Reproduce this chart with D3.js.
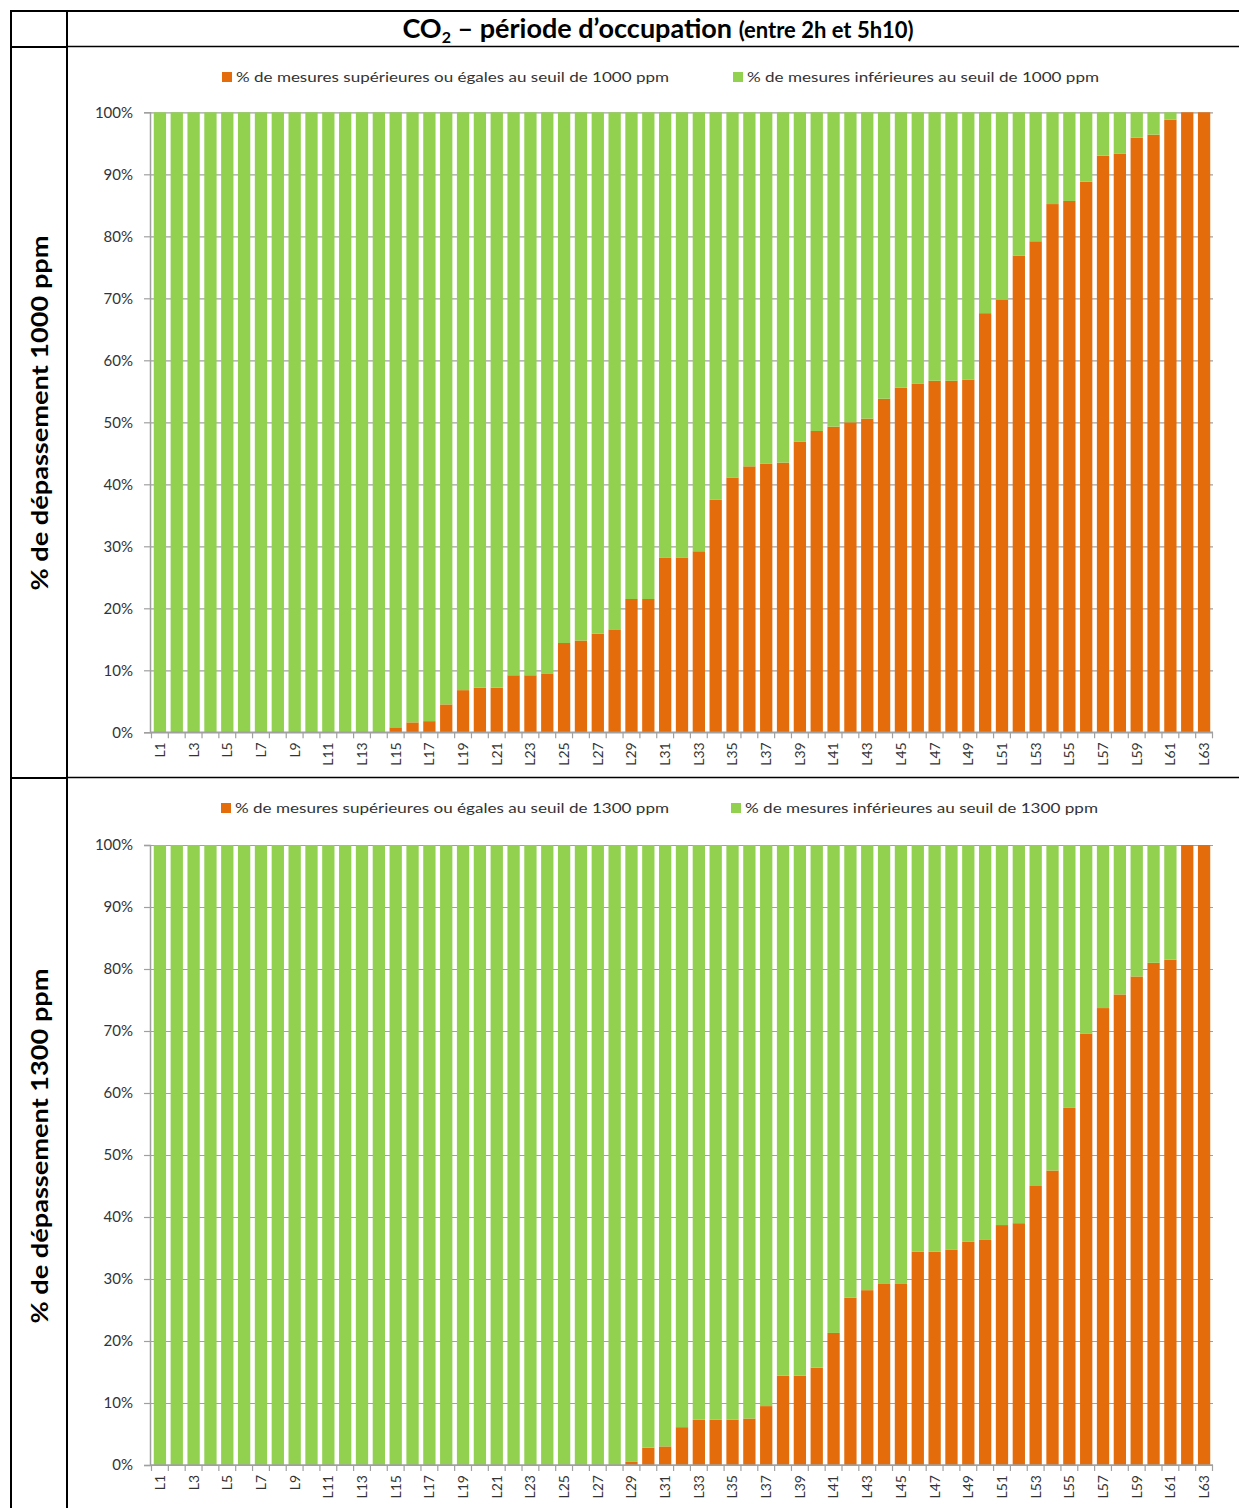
<!DOCTYPE html>
<html><head><meta charset="utf-8">
<script src="https://cdn.jsdelivr.net/npm/d3@7"></script>
<style>
html,body{margin:0;padding:0;background:#fff;}
svg{display:block;font-family:Lato,"Open Sans",sans-serif;}
</style></head>
<body>
<svg id="chart" width="1239" height="1508"></svg>
<script>
const categories = ["L1","L2","L3","L4","L5","L6","L7","L8","L9","L10","L11","L12","L13","L14","L15","L16","L17","L18","L19","L20","L21","L22","L23","L24","L25","L26","L27","L28","L29","L30","L31","L32","L33","L34","L35","L36","L37","L38","L39","L40","L41","L42","L43","L44","L45","L46","L47","L48","L49","L50","L51","L52","L53","L54","L55","L56","L57","L58","L59","L60","L61","L62","L63"];
const labeledCategories = ["L1","L3","L5","L7","L9","L11","L13","L15","L17","L19","L21","L23","L25","L27","L29","L31","L33","L35","L37","L39","L41","L43","L45","L47","L49","L51","L53","L55","L57","L59","L61","L63"];
// % of measures >= 1000 ppm
const over1000 = [0,0,0,0,0,0,0,0,0,0,0,0,0,0,0.8,1.6,1.8,4.5,6.8,7.2,7.2,9.2,9.2,9.5,14.4,14.8,15.9,16.6,21.5,21.5,28.2,28.2,29.2,37.5,41.1,42.9,43.3,43.5,46.9,48.6,49.3,50.0,50.6,53.8,55.6,56.2,56.7,56.7,56.9,67.6,69.8,76.9,79.2,85.2,85.7,88.8,93.0,93.3,95.9,96.4,98.8,100,100];
// % of measures >= 1300 ppm
const over1300 = [0,0,0,0,0,0,0,0,0,0,0,0,0,0,0,0,0,0,0,0,0,0,0,0,0,0,0,0,0.5,2.8,3.0,6.1,7.3,7.3,7.3,7.5,9.5,14.4,14.4,15.7,21.3,27.0,28.2,29.2,29.2,34.4,34.4,34.7,36.0,36.3,38.7,39.0,45.0,47.5,57.6,69.6,73.7,75.9,78.8,81.0,81.5,100,100];
const yTicks = [0,10,20,30,40,50,60,70,80,90,100];
const seriesKeys = ["over","under"];
const legend1000 = ["% de mesures supérieures ou égales au seuil de 1000 ppm","% de mesures inférieures au seuil de 1000 ppm"];
const legend1300 = ["% de mesures supérieures ou égales au seuil de 1300 ppm","% de mesures inférieures au seuil de 1300 ppm"];
const axisTitles = ["% de dépassement 1000 ppm","% de dépassement 1300 ppm"];

const colors = {over:"#E46C0A", under:"#92D050"};
const gridColor = "#A0A0A0";
const textColor = "#333333";

const svg = d3.select("#chart");

// Table frame
const frame = svg.append("g").attr("stroke","#000").attr("fill","none");
frame.append("line").attr("x1",11).attr("x2",1239).attr("y1",11).attr("y2",11).attr("stroke-width",2);
frame.append("line").attr("x1",11).attr("x2",11).attr("y1",10).attr("y2",1508).attr("stroke-width",2);
frame.append("line").attr("x1",67).attr("x2",67).attr("y1",10).attr("y2",1508).attr("stroke-width",2);
frame.append("line").attr("x1",11).attr("x2",67).attr("y1",47).attr("y2",47).attr("stroke-width",2);
frame.append("line").attr("x1",67).attr("x2",1239).attr("y1",46.5).attr("y2",46.5).attr("stroke-width",1.3);
frame.append("line").attr("x1",11).attr("x2",67).attr("y1",778).attr("y2",778).attr("stroke-width",2);
frame.append("line").attr("x1",67).attr("x2",1239).attr("y1",777.5).attr("y2",777.5).attr("stroke-width",1.3);

// Title
const title = svg.append("text").attr("x",658).attr("y",38).attr("text-anchor","middle")
  .attr("font-weight","bold").attr("fill","#000").style("font-family","Lato, sans-serif");
title.append("tspan").attr("font-size",27).text("CO");
title.append("tspan").attr("font-size",16).attr("dy",5).text("2");
title.append("tspan").attr("font-size",27).attr("dy",-5).text(" – période d’occupation ");
title.append("tspan").attr("font-size",22).text("(entre 2h et 5h10)");

const x = d3.scaleBand().domain(categories).range([151.5,1212.5]).paddingInner(0.27).paddingOuter(0.135);

function drawChart(cfg){
  const g = svg.append("g");
  const y = d3.scaleLinear().domain([0,100]).range([cfg.y0, cfg.y1]);
  const data = categories.map((c,i)=>({cat:c, over:cfg.over[i], under:100-cfg.over[i]}));
  const stacked = d3.stack().keys(seriesKeys)(data);

  // grid
  g.append("g").attr("transform",`translate(150,0)`)
    .call(d3.axisLeft(y).tickValues(yTicks).tickSize(-(1213-150)).tickFormat(""))
    .call(a=>a.select(".domain").remove())
    .call(a=>a.selectAll("line").attr("stroke",gridColor).attr("stroke-width",1.2));

  // bars
  g.append("g").selectAll("g").data(stacked).join("g")
    .attr("fill",d=>colors[d.key])
    .selectAll("rect").data(d=>d).join("rect")
    .attr("x",d=>x(d.data.cat))
    .attr("width",x.bandwidth())
    .attr("y",d=>y(d[1]))
    .attr("height",d=>Math.max(0,y(d[0])-y(d[1])));

  // y axis
  g.append("g").attr("transform",`translate(150,0)`)
    .call(d3.axisLeft(y).tickValues(yTicks).tickFormat(d=>d+"%").tickSize(6).tickPadding(11))
    .call(a=>a.select(".domain").attr("stroke",gridColor).attr("stroke-width",1.5))
    .call(a=>a.selectAll("line").attr("stroke",gridColor).attr("stroke-width",1.2))
    .call(a=>a.selectAll("text").attr("fill",textColor).attr("font-size",15).style("font-family","Lato, sans-serif"));

  // x axis line + boundary ticks
  const step = x.step();
  const xa = g.append("g").attr("transform",`translate(0,${cfg.y0})`);
  xa.append("line").attr("x1",150).attr("x2",1213).attr("y1",0).attr("y2",0)
    .attr("stroke",gridColor).attr("stroke-width",1.5);
  xa.selectAll("line.tk").data(categories.concat(["__end"])).join("line").attr("class","tk")
    .attr("x1",(d,i)=> i<categories.length ? x(d) - step*x.paddingInner()/2 : x(categories[categories.length-1]) + x.bandwidth() + step*x.paddingInner()/2)
    .attr("x2",function(d,i){return d3.select(this).attr("x1");})
    .attr("y1",0).attr("y2",6).attr("stroke",gridColor).attr("stroke-width",1.2);
  const lab = g.append("g").attr("transform",`translate(0,${cfg.y0})`)
    .call(d3.axisBottom(x).tickValues(labeledCategories).tickSize(0))
    .call(a=>a.select(".domain").remove());
  lab.selectAll("text").attr("transform","rotate(-90)").attr("x",-10).attr("y",0).attr("dy","0.35em")
    .style("text-anchor","end").attr("fill",textColor).attr("font-size",14).style("font-family","Lato, sans-serif");

  // legend
  const lg = g.append("g").attr("font-size",13).attr("fill",textColor).style("font-family","Lato, sans-serif");
  const items = [
    {key:"over", sx:cfg.legendX[0], tx:cfg.legendX[0]+14, len:cfg.legendLen[0], label:cfg.legend[0]},
    {key:"under", sx:cfg.legendX[1], tx:cfg.legendX[1]+14, len:cfg.legendLen[1], label:cfg.legend[1]}
  ];
  items.forEach(it=>{
    lg.append("rect").attr("x",it.sx).attr("y",cfg.legendY-5).attr("width",10).attr("height",10).attr("fill",colors[it.key]);
    lg.append("text").attr("x",it.tx).attr("y",cfg.legendY+5).attr("textLength",it.len).attr("lengthAdjust","spacingAndGlyphs").text(it.label);
  });

  // axis title
  svg.append("text").attr("transform",`translate(48,${cfg.titleY}) rotate(-90)`)
    .attr("text-anchor","middle").attr("font-weight","bold").attr("font-size",23).attr("fill","#000")
    .attr("textLength",355).attr("lengthAdjust","spacingAndGlyphs")
    .style("font-family","Lato, sans-serif").text(cfg.axisTitle);
}

drawChart({y0:732.3, y1:112.3, over:over1000, legendY:77, legendX:[222,733], legendLen:[433,352], legend:legend1000, axisTitle:axisTitles[0], titleY:413});
drawChart({y0:1465, y1:845, over:over1300, legendY:808, legendX:[221,731], legendLen:[434,353], legend:legend1300, axisTitle:axisTitles[1], titleY:1146});
</script>
</body></html>
